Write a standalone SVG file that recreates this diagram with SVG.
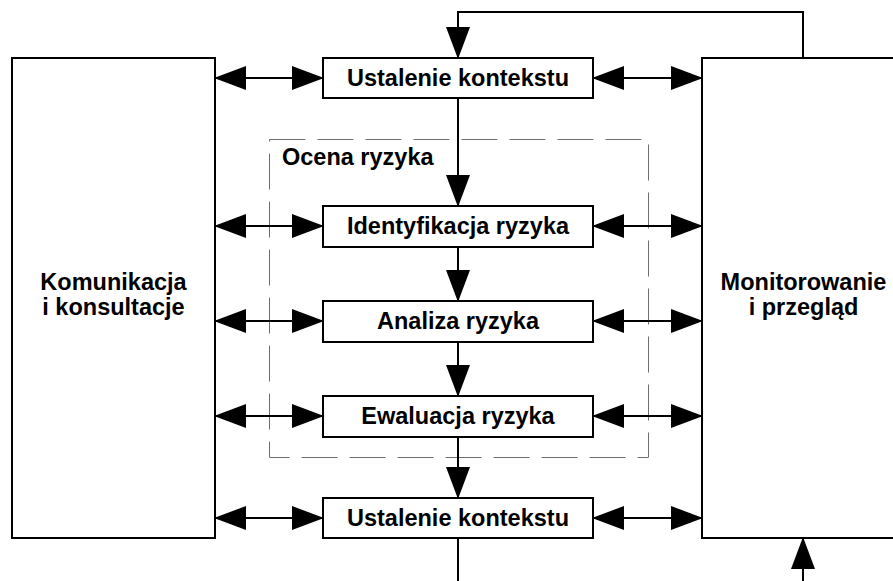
<svg xmlns="http://www.w3.org/2000/svg" width="893" height="581" viewBox="0 0 893 581">
  <style>
    .box { fill: #ffffff; stroke: #000000; stroke-width: 2; }
    .lbl { font-family: "Liberation Sans", Arial, sans-serif; font-weight: bold; font-size: 23.5px; fill: #000000; text-anchor: middle; }
    .grp { fill: none; stroke: #6e6e6e; stroke-width: 1; stroke-dasharray: 36 12; }
    .con { fill: none; stroke: #000000; stroke-width: 2; }
    .both { marker-start: url(#arrow); marker-end: url(#arrow); }
    .one { marker-end: url(#arrow); }
  </style>
  <defs>
    <marker id="arrow" markerUnits="userSpaceOnUse" markerWidth="32" markerHeight="24" viewBox="0 0 32 24" refX="31" refY="12" orient="auto-start-reverse">
      <path d="M0,0 L32,12 L0,24 Z" fill="#000000"/>
    </marker>
  </defs>
  <rect width="893" height="581" fill="#ffffff"/>

  <!-- risk assessment group frame -->
  <g id="ocena-ryzyka">
    <rect class="grp" x="269.5" y="139.5" width="379" height="318"/>
    <text class="lbl" x="282" y="165" style="text-anchor:start">Ocena ryzyka</text>
  </g>

  <!-- connectors -->
  <g id="connectors">
    <!-- links to communication block -->
    <line class="con both" x1="215" y1="78" x2="323" y2="78"/>
    <line class="con both" x1="215" y1="226" x2="323" y2="226"/>
    <line class="con both" x1="215" y1="321" x2="323" y2="321"/>
    <line class="con both" x1="215" y1="416" x2="323" y2="416"/>
    <line class="con both" x1="215" y1="518" x2="323" y2="518"/>
    <!-- links to monitoring block -->
    <line class="con both" x1="593" y1="78" x2="702" y2="78"/>
    <line class="con both" x1="593" y1="226" x2="702" y2="226"/>
    <line class="con both" x1="593" y1="321" x2="702" y2="321"/>
    <line class="con both" x1="593" y1="416" x2="702" y2="416"/>
    <line class="con both" x1="593" y1="518" x2="702" y2="518"/>
    <!-- main process flow -->
    <line class="con one" x1="458" y1="98" x2="458" y2="206"/>
    <line class="con one" x1="458" y1="247" x2="458" y2="301"/>
    <line class="con one" x1="458" y1="342" x2="458" y2="396"/>
    <line class="con one" x1="458" y1="437" x2="458" y2="498"/>
    <line class="con" x1="458" y1="538" x2="458" y2="590"/>
    <!-- feedback from monitoring -->
    <path class="con one" d="M803,58 V12 H458 V58"/>
    <line class="con one" x1="803" y1="590" x2="803" y2="538"/>
  </g>

  <g id="komunikacja">
    <rect class="box" x="12" y="58" width="203" height="480"/>
    <text class="lbl" x="113.5" y="290">Komunikacja</text>
    <text class="lbl" x="113.5" y="315">i konsultacje</text>
  </g>

  <g id="monitorowanie">
    <rect class="box" x="702" y="58" width="203" height="480"/>
    <text class="lbl" x="803.5" y="290">Monitorowanie</text>
    <text class="lbl" x="803.5" y="315">i przegląd</text>
  </g>

  <g id="ustalenie-kontekstu-1">
    <rect class="box" x="323" y="58" width="270" height="40"/>
    <text class="lbl" x="458" y="86">Ustalenie kontekstu</text>
  </g>

  <g id="identyfikacja">
    <rect class="box" x="323" y="206" width="270" height="41"/>
    <text class="lbl" x="458" y="234">Identyfikacja ryzyka</text>
  </g>

  <g id="analiza">
    <rect class="box" x="323" y="301" width="270" height="41"/>
    <text class="lbl" x="458" y="329">Analiza ryzyka</text>
  </g>

  <g id="ewaluacja">
    <rect class="box" x="323" y="396" width="270" height="41"/>
    <text class="lbl" x="458" y="424">Ewaluacja ryzyka</text>
  </g>

  <g id="ustalenie-kontekstu-2">
    <rect class="box" x="323" y="498" width="270" height="40"/>
    <text class="lbl" x="458" y="526">Ustalenie kontekstu</text>
  </g>
</svg>
